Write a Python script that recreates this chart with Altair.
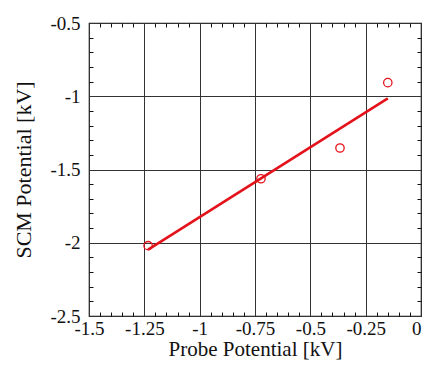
import altair as alt
import pandas as pd

# data
probe = [-1.233, -0.723, -0.366, -0.150]
scm = [-2.02, -1.563, -1.353, -0.907]

# axis tick values
x_major = [-1.5, -1.25, -1.0, -0.75, -0.5, -0.25, 0.0]
y_major = [-2.5, -2.0, -1.5, -1.0, -0.5]
x_minor = [-1.45, -1.4, -1.35, -1.3, -1.2, -1.15, -1.1, -1.05,
           -0.95, -0.9, -0.85, -0.8, -0.7, -0.65, -0.6, -0.55,
           -0.45, -0.4, -0.35, -0.3, -0.2, -0.15, -0.1, -0.05]
y_minor = [-2.4, -2.3, -2.2, -2.1, -1.9, -1.8, -1.7, -1.6,
           -1.4, -1.3, -1.2, -1.1, -0.9, -0.8, -0.7, -0.6]

df = pd.DataFrame({"probe": probe, "scm": scm})

FONT = "Liberation Serif"
RED = "#e3121b"

xs = alt.Scale(domain=[-1.5, 0], nice=False, zero=False)
ys = alt.Scale(domain=[-2.5, -0.5], nice=False, zero=False)

x_main_axis = alt.Axis(
    values=x_major, title="Probe Potential [kV]", grid=True,
    gridColor="#333333", gridWidth=1, gridOpacity=1, ticks=False, domain=False,
    labelExpr="toString(datum.value)", labelFont=FONT, labelFontSize=19,
    labelAlign={"condition": {"test": "datum.value === 0", "value": "right"},
                "value": "center"},
    labelColor="#111111", labelPadding=3, labelFlush=False, labelOverlap=False,
    titleFont=FONT, titleFontSize=21, titleFontWeight="normal",
    titleColor="#111111", titlePadding=0,
)
y_main_axis = alt.Axis(
    values=y_major, title="SCM Potential [kV]", grid=True,
    gridColor="#333333", gridWidth=1, gridOpacity=1, ticks=False, domain=False,
    labelExpr="toString(datum.value)", labelFont=FONT, labelFontSize=19,
    labelColor="#111111", labelPadding=9, labelFlush=False, labelOverlap=False,
    titleFont=FONT, titleFontSize=22, titleFontWeight="normal",
    titleColor="#111111", titlePadding=14,
)


def minor_axis(orient, vals):
    return alt.Axis(orient=orient, values=vals, offset=-4, tickSize=4,
                    tickColor="#111111", tickWidth=1, labels=False,
                    domain=False, grid=False, title="")


base = alt.Chart(df)

minor_bl = base.mark_point(opacity=0).encode(
    x=alt.X("probe:Q", scale=xs, axis=minor_axis("bottom", x_minor)),
    y=alt.Y("scm:Q", scale=ys, axis=minor_axis("left", y_minor)),
)
minor_tr = base.mark_point(opacity=0).encode(
    x=alt.X("probe:Q", scale=xs, axis=minor_axis("top", x_minor)),
    y=alt.Y("scm:Q", scale=ys, axis=minor_axis("right", y_minor)),
)

line = base.transform_regression("probe", "scm").mark_line(
    color=RED, strokeWidth=2.6
).encode(
    x=alt.X("probe:Q", scale=xs, axis=x_main_axis),
    y=alt.Y("scm:Q", scale=ys, axis=y_main_axis),
)

points = base.mark_point(
    shape="circle", filled=False, color=RED, size=70, strokeWidth=1.3, opacity=1
).encode(
    x=alt.X("probe:Q", scale=xs, axis=None),
    y=alt.Y("scm:Q", scale=ys, axis=None),
)

chart = alt.layer(minor_bl, minor_tr, line, points).resolve_scale(
    x="independent", y="independent"
).properties(
    width=332, height=293,
    autosize=alt.AutoSizeParams(type="none"),
    padding={"left": 81, "top": 15, "right": 1, "bottom": 44},
    background="white",
).configure_view(
    stroke="#111111", strokeWidth=1.2
).configure_axis(
    labelFont=FONT, titleFont=FONT
)

chart.save("out.html", embed_options={"renderer": "svg", "actions": False})
